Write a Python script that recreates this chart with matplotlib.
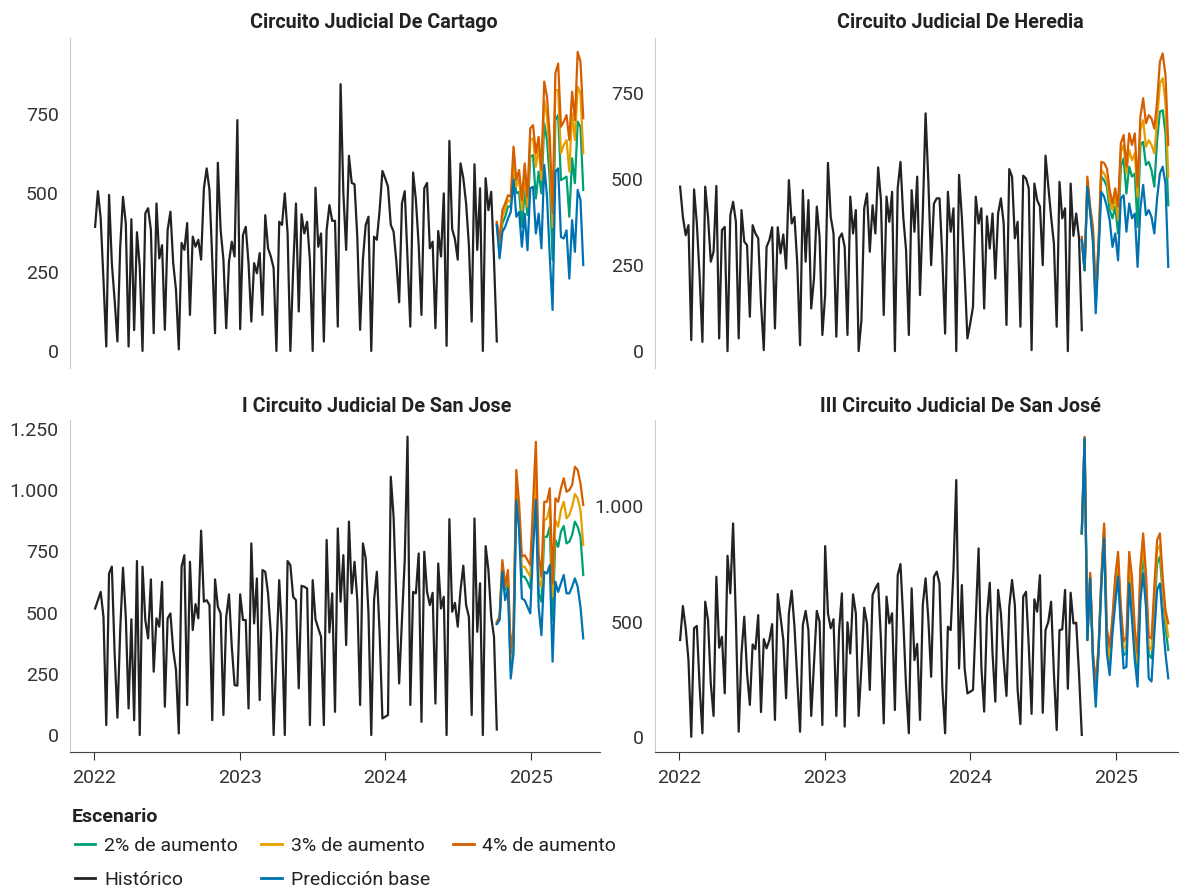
import numpy as np
import pandas as pd
import matplotlib
matplotlib.use("Agg")
import matplotlib.pyplot as plt
import matplotlib.dates as mdates
from matplotlib.ticker import FuncFormatter, FixedLocator
from matplotlib.lines import Line2D

plt.rcParams['font.family'] = ['Roboto', 'DejaVu Sans']

# weekly counts per circuit, first half / second half of the history
cartago_hist_a = [393, 506, 420, 225, 14, 494, 278, 161, 30, 330, 488, 404, 14, 417, 66, 376, 267, 0,
                  436, 452, 383, 56, 467, 293, 335, 67, 383, 441, 278, 193, 5, 342, 320, 405, 114, 362,
                  330, 352, 289, 515, 578, 510, 289, 56, 596, 383, 289, 72, 283, 346, 299, 731, 69, 367,
                  393, 278, 93, 278, 246, 310, 114, 430, 325, 299, 262, 0, 409, 399, 499, 373, 0, 257]
cartago_hist_b = [467, 125, 433, 372, 409, 289, 0, 517, 330, 372, 30, 383, 462, 412, 412, 77, 845, 499,
                  320, 618, 532, 528, 359, 67, 289, 399, 425, 0, 362, 352, 446, 570, 547, 520, 399, 378,
                  283, 154, 467, 506, 289, 77, 565, 478, 335, 114, 515, 532, 325, 346, 72, 380, 299, 499,
                  16, 665, 386, 354, 289, 594, 547, 467, 335, 93, 591, 320, 515, 0, 547, 446, 504, 289, 30]
cartago_base = [398, 293, 377, 393, 419, 440, 541, 425, 440, 330, 435, 319, 515, 520, 372, 435,
                325, 589, 489, 298, 130, 568, 578, 361, 356, 382, 229, 414, 314, 510, 478, 272]
cartago_2 = [402, 319, 404, 425, 457, 457, 573, 499, 504, 393, 510, 430, 615, 620, 483, 568,
             499, 721, 668, 541, 288, 731, 747, 541, 546, 552, 425, 610, 531, 726, 710, 510]
cartago_3 = [405, 340, 425, 451, 478, 472, 594, 520, 547, 446, 552, 457, 668, 673, 584, 647,
             541, 794, 742, 615, 393, 826, 826, 626, 652, 668, 568, 752, 668, 837, 816, 626]
cartago_4 = [409, 351, 446, 467, 493, 488, 647, 541, 573, 478, 594, 488, 705, 715, 626, 678,
             573, 853, 805, 678, 436, 879, 910, 710, 726, 747, 668, 821, 731, 947, 916, 737]

heredia_hist_a = [478, 390, 337, 366, 32, 470, 371, 216, 27, 478, 390, 260, 289, 480, 37, 352, 361, 0,
                  395, 434, 376, 37, 410, 318, 308, 100, 366, 342, 328, 139, 3, 303, 323, 360, 66, 360,
                  284, 339, 240, 497, 371, 390, 255, 17, 468, 260, 439, 124, 211, 420, 332, 47, 163, 547,
                  390, 342, 42, 328, 342, 303, 47, 449, 342, 410, 0, 90, 415, 458, 289, 424, 342, 534]
heredia_hist_b = [439, 105, 449, 376, 463, 0, 473, 550, 390, 294, 47, 468, 347, 507, 163, 400, 691, 492,
                  250, 429, 444, 444, 274, 51, 463, 347, 415, 0, 512, 390, 226, 37, 80, 129, 449, 371,
                  415, 124, 392, 298, 400, 211, 400, 444, 371, 76, 529, 507, 328, 376, 71, 510, 502, 473,
                  3, 487, 439, 420, 250, 568, 478, 390, 313, 71, 492, 386, 415, 0, 487, 335, 400, 328, 61]
heredia_base = [323, 235, 478, 405, 313, 110, 284, 463, 449, 420, 381, 303, 342, 264, 444, 453,
                347, 429, 386, 400, 245, 415, 483, 395, 410, 390, 342, 444, 516, 536, 487, 245]
heredia_2 = [322, 235, 487, 405, 337, 139, 294, 507, 497, 478, 410, 386, 420, 342, 536, 560,
             458, 536, 507, 516, 361, 599, 608, 541, 550, 526, 478, 613, 696, 700, 633, 424]
heredia_3 = [328, 235, 497, 410, 352, 158, 303, 526, 516, 497, 439, 410, 449, 381, 579, 599,
             516, 584, 555, 575, 449, 642, 671, 594, 613, 599, 575, 671, 778, 793, 720, 507]
heredia_4 = [332, 235, 507, 420, 361, 177, 313, 550, 547, 531, 468, 429, 473, 420, 604, 628,
             536, 633, 599, 633, 478, 681, 735, 662, 686, 676, 647, 725, 841, 865, 802, 599]

sjose1_hist_a = [517, 551, 585, 483, 41, 660, 688, 334, 71, 429, 684, 483, 109, 473, 61, 711, 0, 688,
                 470, 395, 636, 259, 477, 443, 626, 116, 477, 497, 347, 266, 7, 688, 735, 123, 708, 429,
                 535, 477, 835, 545, 551, 531, 61, 636, 524, 497, 82, 483, 575, 361, 204, 202, 575, 470,
                 470, 109, 783, 456, 640, 143, 674, 667, 579, 415, 0, 334, 633, 415, 0, 711, 694, 565]
sjose1_hist_b = [551, 191, 610, 606, 599, 41, 633, 473, 436, 402, 41, 797, 419, 579, 95, 844, 545, 735,
                 368, 872, 579, 708, 551, 123, 783, 722, 497, 0, 551, 667, 415, 68, 75, 82, 1055, 892,
                 545, 211, 470, 715, 1219, 123, 585, 579, 742, 54, 749, 585, 531, 581, 129, 701, 517, 565,
                 0, 882, 504, 540, 443, 592, 692, 531, 483, 82, 885, 422, 620, 0, 772, 674, 483, 402, 23]
sjose1_base = [453, 470, 667, 551, 599, 231, 334, 960, 837, 558, 551, 524, 497, 756, 960, 524,
               408, 667, 660, 694, 300, 626, 585, 620, 654, 579, 579, 606, 640, 606, 524, 395]
sjose1_2 = [456, 473, 688, 592, 633, 279, 388, 1001, 865, 647, 647, 626, 599, 837, 1014, 579,
            545, 810, 810, 851, 470, 797, 769, 831, 854, 783, 790, 817, 872, 851, 810, 654]
sjose1_3 = [459, 476, 697, 606, 654, 306, 415, 1042, 892, 688, 688, 667, 647, 878, 1083, 633,
            606, 878, 885, 933, 565, 878, 851, 919, 953, 885, 899, 933, 985, 967, 919, 776]
sjose1_4 = [463, 483, 715, 613, 674, 334, 443, 1083, 946, 729, 735, 715, 694, 946, 1198, 742,
            647, 953, 953, 1008, 620, 967, 953, 1008, 1049, 994, 1001, 1021, 1096, 1083, 1028, 940]

sjose3_hist_a = [420, 567, 471, 333, 1, 471, 481, 218, 16, 586, 507, 232, 91, 694, 387, 434, 189, 785,
                 622, 925, 507, 23, 362, 521, 276, 139, 401, 380, 528, 108, 424, 384, 420, 489, 74, 619,
                 521, 420, 168, 536, 634, 478, 247, 23, 485, 546, 463, 91, 319, 546, 499, 52, 827, 536,
                 471, 510, 91, 463, 622, 45, 497, 362, 618, 536, 91, 304, 560, 492, 204, 615, 644, 665]
sjose3_hist_b = [420, 59, 608, 492, 536, 117, 701, 749, 507, 218, 16, 644, 333, 403, 74, 572, 687, 507,
                 261, 694, 716, 665, 218, 16, 478, 463, 723, 1113, 297, 658, 297, 189, 196, 204, 507, 817,
                 304, 110, 521, 668, 362, 153, 637, 536, 333, 178, 564, 680, 572, 204, 56, 608, 629, 391,
                 100, 596, 543, 701, 105, 463, 499, 586, 276, 30, 463, 466, 637, 209, 625, 492, 495, 276, 9]
sjose3_base = [882, 1293, 420, 686, 333, 131, 362, 651, 860, 362, 268, 449, 579, 694, 478, 297,
               304, 665, 507, 333, 218, 586, 709, 564, 254, 240, 449, 637, 665, 507, 362, 254]
sjose3_2 = [882, 1290, 420, 694, 348, 196, 369, 665, 896, 391, 297, 485, 651, 737, 507, 355,
            362, 737, 593, 391, 276, 651, 795, 637, 355, 341, 536, 752, 781, 622, 478, 377]
sjose3_3 = [882, 1295, 420, 706, 355, 211, 377, 672, 911, 434, 333, 507, 672, 774, 536, 384,
            391, 774, 637, 434, 319, 701, 839, 672, 391, 377, 586, 810, 831, 651, 521, 434]
sjose3_4 = [882, 1300, 420, 711, 362, 237, 391, 693, 925, 469, 391, 521, 694, 802, 564, 413,
            434, 802, 693, 469, 362, 737, 882, 709, 434, 427, 651, 853, 882, 693, 550, 492]

titles = ["Circuito Judicial De Cartago", "Circuito Judicial De Heredia",
          "I Circuito Judicial De San Jose", "III Circuito Judicial De San José"]
yticks = [[0, 250, 500, 750], [0, 250, 500, 750],
          [0, 250, 500, 750, 1000, 1250], [0, 500, 1000]]
ylims = [(-54, 991), (-49, 910), (-69, 1287), (-65, 1373)]

colors = {"2% de aumento": "#009E73", "3% de aumento": "#E69F00", "4% de aumento": "#D55E00",
          "Histórico": "#222222", "Predicción base": "#0072B2"}

panels = [
    (cartago_hist_a + cartago_hist_b, cartago_base, cartago_2, cartago_3, cartago_4),
    (heredia_hist_a + heredia_hist_b, heredia_base, heredia_2, heredia_3, heredia_4),
    (sjose1_hist_a + sjose1_hist_b, sjose1_base, sjose1_2, sjose1_3, sjose1_4),
    (sjose3_hist_a + sjose3_hist_b, sjose3_base, sjose3_2, sjose3_3, sjose3_4),
]

W, H = 1179, 888
fig = plt.figure(figsize=(W / 100, H / 100), dpi=100)

# axes boxes in pixels: left, top, width, height
boxes = [(70, 38, 530, 330), (655, 38, 530, 330), (70, 420, 530, 332), (655, 420, 530, 332)]
title_pos = [(374, 22), (960, 22), (377, 407), (960, 407)]

miles = FuncFormatter(lambda v, pos: f"{int(round(v)):,}".replace(",", "."))
lw = 1.6

for i, (hist, base, s2, s3, s4) in enumerate(panels):
    l, t, w, h = boxes[i]
    ax = fig.add_axes([l / W, (H - t - h) / H, w / W, h / H])

    hist_dates = pd.date_range("2022-01-03", periods=len(hist), freq="7D")
    fc_dates = pd.date_range(hist_dates[-1], periods=len(base), freq="7D")

    ax.plot(fc_dates, s2, color=colors["2% de aumento"], lw=lw)
    ax.plot(fc_dates, s3, color=colors["3% de aumento"], lw=lw)
    ax.plot(fc_dates, s4, color=colors["4% de aumento"], lw=lw)
    ax.plot(hist_dates, hist, color=colors["Histórico"], lw=lw)
    ax.plot(fc_dates, base, color=colors["Predicción base"], lw=lw)

    ax.set_xlim(pd.Timestamp("2021-11-01"), pd.Timestamp("2025-06-23"))
    ax.set_ylim(*ylims[i])
    ax.yaxis.set_major_locator(FixedLocator(yticks[i]))
    ax.yaxis.set_major_formatter(miles)
    ax.xaxis.set_major_locator(mdates.YearLocator())
    ax.xaxis.set_major_formatter(mdates.DateFormatter("%Y"))

    for s in ["top", "right"]:
        ax.spines[s].set_visible(False)
    ax.spines["left"].set_color("#cccccc")
    ax.tick_params(axis="y", length=0, labelsize=14, colors="#333333", pad=8)
    if i < 2:
        ax.spines["bottom"].set_visible(False)
        ax.tick_params(axis="x", length=0, labelbottom=False)
    else:
        ax.spines["bottom"].set_color("#444444")
        ax.tick_params(axis="x", length=6, labelsize=14, colors="#333333", pad=6)

    fig.text(title_pos[i][0] / W, 1 - title_pos[i][1] / H, titles[i], ha="center", va="center",
             fontsize=14.2, fontweight="bold", color="#222222")

# legend title drawn on its own, then the entries in two rows of three
fig.text(72 / W, 1 - 817 / H, "Escenario", ha="left", va="center",
         fontsize=14, fontweight="bold", color="#222222")

# rows are filled column by column, so order the handles to read across
order = ["2% de aumento", "Histórico", "3% de aumento", "Predicción base", "4% de aumento"]
handles = [Line2D([], [], color=colors[k], lw=2) for k in order]
leg = fig.legend(handles, order, loc="upper left", bbox_to_anchor=(75 / W, 1 - 837 / H), ncol=3,
                 frameon=False, fontsize=14, borderpad=0, borderaxespad=0,
                 handlelength=1.05, handletextpad=0.45, columnspacing=1.2, labelspacing=0.8)
for txt in leg.get_texts():
    txt.set_color("#222222")

fig.savefig("out.png", dpi=100)
